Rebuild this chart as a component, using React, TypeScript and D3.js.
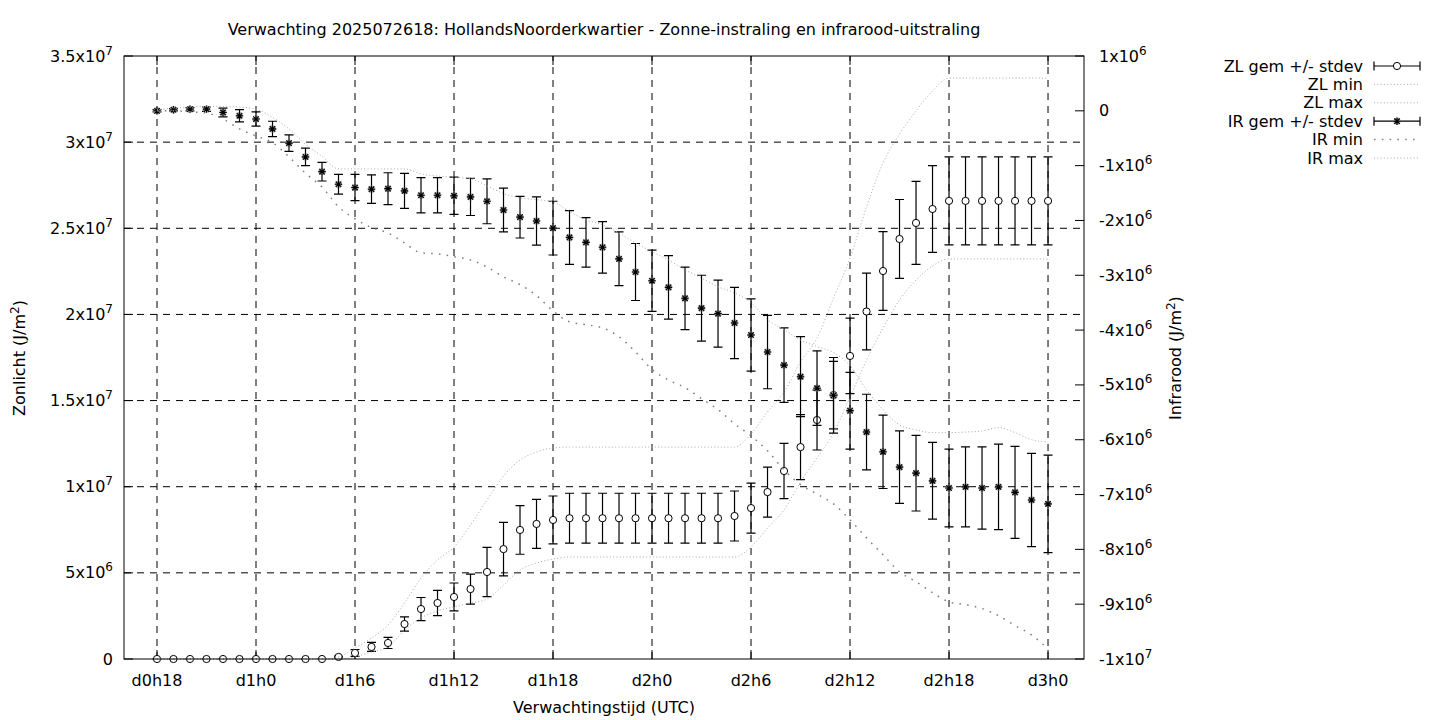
import * as d3 from "d3";

// uren sinds d0h0, één punt per uur (d0h18 .. d3h0)
const HOURS = [
  18, 19, 20, 21, 22, 23, 24, 25, 26, 27, 28, 29, 30, 31, 32, 33, 34, 35, 36,
  37, 38, 39, 40, 41, 42, 43, 44, 45, 46, 47, 48, 49, 50, 51, 52, 53, 54, 55,
  56, 57, 58, 59, 60, 61, 62, 63, 64, 65, 66, 67, 68, 69, 70, 71, 72,
];

// Zonlicht, in 1e6 J/m2
const ZL_MEAN = [
  0, 0, 0, 0, 0, 0, 0, 0, 0, 0, 0, 0.12, 0.35, 0.7, 0.93, 2.03, 2.9, 3.25, 3.6,
  4.06, 5.05, 6.38, 7.49, 7.84, 8.07, 8.17, 8.17, 8.17, 8.17, 8.17, 8.17, 8.17,
  8.17, 8.17, 8.17, 8.3, 8.76, 9.69, 10.91, 12.3, 13.87, 15.32, 17.59, 20.17,
  22.52, 24.38, 25.31, 26.12, 26.59, 26.59, 26.59, 26.59, 26.59, 26.59, 26.59,
];
const ZL_SD = [
  0, 0, 0, 0, 0, 0, 0, 0, 0, 0, 0, 0.05, 0.2, 0.26, 0.32, 0.41, 0.67, 0.73,
  0.81, 0.87, 1.43, 1.55, 1.41, 1.42, 1.39, 1.45, 1.45, 1.45, 1.45, 1.45, 1.45,
  1.45, 1.45, 1.45, 1.45, 1.45, 1.45, 1.45, 1.6, 1.89, 1.74, 1.96, 2.19, 2.23,
  2.29, 2.29, 2.41, 2.52, 2.55, 2.55, 2.55, 2.55, 2.55, 2.55, 2.55,
];
const ZL_MIN = [
  0, 0, 0, 0, 0, 0, 0, 0, 0, 0, 0, 0, 0.12, 0.41, 0.7, 1.68, 2.38, 2.79, 3.02,
  3.25, 3.48, 4.3, 5.17, 5.57, 5.8, 5.92, 5.92, 5.92, 5.92, 5.92, 5.92, 5.92,
  5.92, 5.92, 5.92, 5.92, 6.5, 7.6, 8.65, 10.27, 11.67, 13.12, 15.21, 17.35,
  19.21, 20.84, 22.0, 22.81, 23.22, 23.22, 23.22, 23.22, 23.22, 23.22, 23.22,
];
const ZL_MAX = [
  0, 0, 0, 0, 0, 0, 0, 0, 0, 0, 0, 0.12, 0.64, 1.22, 1.97, 3.25, 4.7, 5.75, 6.5,
  7.78, 9.23, 10.62, 11.55, 12.01, 12.25, 12.3, 12.3, 12.3, 12.3, 12.3, 12.3,
  12.3, 12.3, 12.3, 12.3, 12.3, 13.06, 14.34, 15.5, 17.24, 18.63, 20.95, 23.27,
  26.23, 28.79, 30.47, 31.81, 32.97, 33.72, 33.72, 33.72, 33.72, 33.72, 33.72,
  33.72,
];

// Infrarood, in 1e6 J/m2
const IR_MEAN = [
  0, 0.02, 0.03, 0.03, -0.03, -0.09, -0.15, -0.33, -0.59, -0.84, -1.11, -1.34,
  -1.4, -1.43, -1.42, -1.46, -1.54, -1.54, -1.55, -1.57, -1.65, -1.81, -1.94,
  -2.01, -2.14, -2.31, -2.4, -2.49, -2.7, -2.94, -3.1, -3.22, -3.42, -3.6, -3.7,
  -3.87, -4.09, -4.4, -4.64, -4.85, -5.06, -5.19, -5.47, -5.86, -6.22, -6.5,
  -6.61, -6.75, -6.88, -6.86, -6.88, -6.86, -6.96, -7.1, -7.17,
];
const IR_SD = [
  0.02, 0.02, 0.03, 0.04, 0.08, 0.11, 0.13, 0.14, 0.15, 0.16, 0.17, 0.18, 0.24,
  0.26, 0.29, 0.32, 0.32, 0.32, 0.34, 0.34, 0.41, 0.4, 0.38, 0.44, 0.49, 0.49,
  0.45, 0.47, 0.49, 0.52, 0.56, 0.58, 0.57, 0.6, 0.61, 0.65, 0.66, 0.67, 0.68,
  0.73, 0.68, 0.69, 0.7, 0.69, 0.67, 0.66, 0.69, 0.7, 0.71, 0.73, 0.75, 0.78,
  0.84, 0.85, 0.89,
];
const IR_MIN = [
  0, 0, -0.02, -0.04, -0.15, -0.33, -0.46, -0.58, -0.84, -1.14, -1.39, -1.75,
  -1.97, -2.13, -2.23, -2.41, -2.59, -2.61, -2.66, -2.72, -2.85, -3.03, -3.17,
  -3.37, -3.65, -3.85, -3.9, -3.96, -4.12, -4.4, -4.72, -4.91, -5.05, -5.25,
  -5.45, -5.71, -5.93, -6.2, -6.55, -6.82, -6.99, -7.17, -7.46, -7.79, -8.1,
  -8.41, -8.59, -8.79, -8.96, -9.01, -9.08, -9.21, -9.39, -9.56, -9.82,
];
const IR_MAX = [
  0.02, 0.05, 0.07, 0.08, 0.08, 0.07, 0.03, -0.12, -0.33, -0.61, -0.83, -1.06,
  -1.06, -1.06, -1.06, -1.06, -1.15, -1.19, -1.21, -1.24, -1.37, -1.51, -1.59,
  -1.62, -1.66, -1.84, -1.99, -2.08, -2.23, -2.41, -2.57, -2.72, -2.9, -3.05,
  -3.21, -3.32, -3.5, -3.81, -3.99, -4.18, -4.3, -4.41, -4.65, -5.09, -5.45,
  -5.73, -5.82, -5.87, -5.87, -5.86, -5.84, -5.78, -5.87, -6.0, -6.04,
];

const X_TICKS = [18, 24, 30, 36, 42, 48, 54, 60, 66, 72];
const Y_TICKS = [0, 5e6, 1e7, 1.5e7, 2e7, 2.5e7, 3e7, 3.5e7];
const Y2_TICKS = [
  -1e7, -9e6, -8e6, -7e6, -6e6, -5e6, -4e6, -3e6, -2e6, -1e6, 0, 1e6,
];

const TITLE =
  "Verwachting 2025072618: HollandsNoorderkwartier - Zonne-instraling en infrarood-uitstraling";

const FONT = "DejaVu Sans, sans-serif";
const FS = 16;
const FS_SUP = 12;
const LEFT = 124;
const RIGHT = 1084;
const TOP = 56;
const BOTTOM = 659;
const TICK = 9;
const CAP = 4.5; // halve breedte van de errorbar-dopjes
const LIGHT = { stroke: "#a8a8a8", width: 1, dash: "1,2.3" };
const DARK = { stroke: "#808080", width: 1.5, dash: "1.6,6.2" };

function sci(v: number): [string, string | null] {
  if (v === 0) return ["0", null];
  const e = Math.floor(Math.log10(Math.abs(v)) + 1e-9);
  const m = +(v / 10 ** e).toFixed(1);
  return [`${m}x10`, String(e)];
}

function hourLabel(h: number) {
  return `d${Math.floor(h / 24)}h${h % 24}`;
}

function SciText({ x, y, v, anchor }: { x: number; y: number; v: number; anchor: string }) {
  const [base, exp] = sci(v);
  return (
    <text x={x} y={y} textAnchor={anchor} fontSize={FS}>
      {base}
      {exp && (
        <tspan dy={-7} fontSize={FS_SUP}>
          {exp}
        </tspan>
      )}
    </text>
  );
}

function Star({ x, y }: { x: number; y: number }) {
  const r = 3.7;
  const d = 2.7;
  const p = `M${x - r},${y}H${x + r}M${x},${y - r}V${y + r}M${x - d},${y - d}L${x + d},${y + d}M${x - d},${y + d}L${x + d},${y - d}`;
  return (
    <g fill="none">
      <path d={p} stroke="#9a9a9a" strokeWidth={2.2} />
      <path d={p} stroke="#000" strokeWidth={1.1} />
    </g>
  );
}

function ErrBar({ x, y0, y1 }: { x: number; y0: number; y1: number }) {
  return (
    <path
      d={`M${x},${y0}V${y1}M${x - CAP},${y0}H${x + CAP}M${x - CAP},${y1}H${x + CAP}`}
      stroke="#000"
      strokeWidth={1.2}
      fill="none"
    />
  );
}

export default function App() {
  const x = d3.scaleLinear().domain([16, 74.18]).range([LEFT, RIGHT]);
  const y = d3.scaleLinear().domain([0, 3.5e7]).range([BOTTOM, TOP]);
  const y2 = d3.scaleLinear().domain([-1e7, 1e6]).range([BOTTOM, TOP]);

  const lineL = d3
    .line<number>()
    .x((_, i) => x(HOURS[i]))
    .y((v) => y(v * 1e6))
    .curve(d3.curveMonotoneX);
  const lineR = d3
    .line<number>()
    .x((_, i) => x(HOURS[i]))
    .y((v) => y2(v * 1e6))
    .curve(d3.curveMonotoneX);

  const legendRows = [
    { label: "ZL gem +/- stdev", kind: "zl" },
    { label: "ZL min", kind: "light" },
    { label: "ZL max", kind: "light" },
    { label: "IR gem +/- stdev", kind: "ir" },
    { label: "IR min", kind: "dark" },
    { label: "IR max", kind: "light" },
  ];
  const legendY = d3.scaleLinear().domain([0, 5]).range([66, 158]);
  const sx0 = 1374;
  const sx1 = 1420;

  return (
    <svg
      width={1440}
      height={720}
      style={{ position: "absolute", left: 0, top: 0, background: "#fff" }}
      fontFamily={FONT}
      fill="#000"
    >
      <rect width={1440} height={720} fill="#fff" />

      {/* grid */}
      <g stroke="#000" strokeWidth={1} strokeDasharray="7,6">
        {X_TICKS.map((t) => (
          <line key={t} x1={x(t)} x2={x(t)} y1={BOTTOM} y2={TOP} />
        ))}
        {Y_TICKS.slice(1, -1).map((t) => (
          <line key={t} x1={LEFT} x2={RIGHT} y1={y(t)} y2={y(t)} />
        ))}
      </g>

      {/* ticks */}
      <g stroke="#000" strokeWidth={1}>
        {X_TICKS.map((t) => (
          <g key={t}>
            <line x1={x(t)} x2={x(t)} y1={BOTTOM} y2={BOTTOM - TICK} />
            <line x1={x(t)} x2={x(t)} y1={TOP} y2={TOP + TICK} />
          </g>
        ))}
        {Y_TICKS.map((t) => (
          <line key={t} x1={LEFT} x2={LEFT + TICK} y1={y(t)} y2={y(t)} />
        ))}
        {Y2_TICKS.map((t) => (
          <line key={t} x1={RIGHT} x2={RIGHT - TICK} y1={y2(t)} y2={y2(t)} />
        ))}
      </g>

      {/* ZL gem +/- stdev */}
      <g>
        {ZL_MEAN.map((m, i) => (
          <ErrBar
            key={i}
            x={x(HOURS[i])}
            y0={y((m - ZL_SD[i]) * 1e6)}
            y1={y((m + ZL_SD[i]) * 1e6)}
          />
        ))}
        {ZL_MEAN.map((m, i) => (
          <circle
            key={i}
            cx={x(HOURS[i])}
            cy={y(m * 1e6)}
            r={3.6}
            fill="#fff"
            stroke="#000"
            strokeWidth={1}
          />
        ))}
      </g>
      <path d={lineL(ZL_MIN) ?? ""} fill="none" stroke={LIGHT.stroke} strokeWidth={LIGHT.width} strokeDasharray={LIGHT.dash} />
      <path d={lineL(ZL_MAX) ?? ""} fill="none" stroke={LIGHT.stroke} strokeWidth={LIGHT.width} strokeDasharray={LIGHT.dash} />

      {/* IR gem +/- stdev */}
      <g>
        {IR_MEAN.map((m, i) => (
          <g key={i}>
            <ErrBar
              x={x(HOURS[i])}
              y0={y2((m - IR_SD[i]) * 1e6)}
              y1={y2((m + IR_SD[i]) * 1e6)}
            />
            <Star x={x(HOURS[i])} y={y2(m * 1e6)} />
          </g>
        ))}
      </g>
      <path d={lineR(IR_MIN) ?? ""} fill="none" stroke={DARK.stroke} strokeWidth={DARK.width} strokeDasharray={DARK.dash} />
      <path d={lineR(IR_MAX) ?? ""} fill="none" stroke={LIGHT.stroke} strokeWidth={LIGHT.width} strokeDasharray={LIGHT.dash} />

      {/* border */}
      <rect
        x={LEFT}
        y={TOP}
        width={RIGHT - LEFT}
        height={BOTTOM - TOP}
        fill="none"
        stroke="#000"
        strokeWidth={1}
      />

      {/* tick labels */}
      {Y_TICKS.map((t) => (
        <SciText key={t} x={113} y={y(t) + 5.5} v={t} anchor="end" />
      ))}
      {Y2_TICKS.map((t) => (
        <SciText key={t} x={1099} y={y2(t) + 5.5} v={t} anchor="start" />
      ))}
      {X_TICKS.map((t) => (
        <text key={t} x={x(t)} y={686} textAnchor="middle" fontSize={FS}>
          {hourLabel(t)}
        </text>
      ))}

      {/* titles */}
      <text x={604} y={35} textAnchor="middle" fontSize={FS}>
        {TITLE}
      </text>
      <text x={604} y={713} textAnchor="middle" fontSize={FS}>
        Verwachtingstijd (UTC)
      </text>
      <text transform="translate(25,358) rotate(-90)" textAnchor="middle" fontSize={FS}>
        Zonlicht (J/m
        <tspan dy={-6} fontSize={FS_SUP}>
          2
        </tspan>
        <tspan dy={6}>)</tspan>
      </text>
      <text transform="translate(1181,358) rotate(-90)" textAnchor="middle" fontSize={FS}>
        Infrarood (J/m
        <tspan dy={-6} fontSize={FS_SUP}>
          2
        </tspan>
        <tspan dy={6}>)</tspan>
      </text>

      {/* legend */}
      {legendRows.map((r, i) => {
        const ly = legendY(i);
        const mid = (sx0 + sx1) / 2;
        return (
          <g key={r.label}>
            <text x={1363} y={ly + 5.5} textAnchor="end" fontSize={FS}>
              {r.label}
            </text>
            {(r.kind === "zl" || r.kind === "ir") && (
              <path
                d={`M${sx0},${ly}H${sx1}M${sx0},${ly - CAP}V${ly + CAP}M${sx1},${ly - CAP}V${ly + CAP}`}
                stroke="#000"
                strokeWidth={1.2}
                fill="none"
              />
            )}
            {r.kind === "zl" && (
              <circle cx={mid} cy={ly} r={3.6} fill="#fff" stroke="#000" />
            )}
            {r.kind === "ir" && <Star x={mid} y={ly} />}
            {r.kind === "light" && (
              <line
                x1={sx0}
                x2={sx1}
                y1={ly}
                y2={ly}
                stroke={LIGHT.stroke}
                strokeWidth={LIGHT.width}
                strokeDasharray={LIGHT.dash}
              />
            )}
            {r.kind === "dark" && (
              <line
                x1={sx0}
                x2={sx1}
                y1={ly}
                y2={ly}
                stroke={DARK.stroke}
                strokeWidth={DARK.width}
                strokeDasharray={DARK.dash}
              />
            )}
          </g>
        );
      })}
    </svg>
  );
}
